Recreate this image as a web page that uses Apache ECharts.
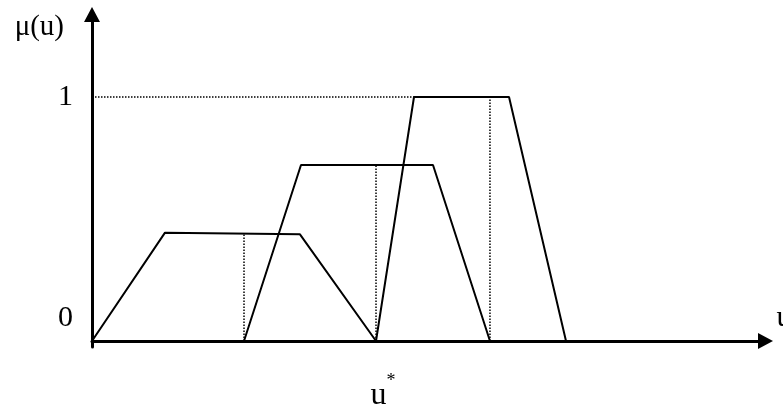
<!DOCTYPE html>
<html>
<head>
<meta charset="utf-8">
<title>μ(u)</title>
<script src="https://cdn.jsdelivr.net/npm/echarts@6/dist/echarts.min.js"></script>
<style>
  html, body { margin: 0; padding: 0; background: #fff; }
  #chart { width: 783px; height: 406px; }
</style>
</head>
<body>
<div id="chart"></div>
<script>
// Three trapezoidal membership functions, as [u, μ] knots
const lowSet  = [[0, 0], [10.84, 0.444], [30.88, 0.437], [42.17, 0]];
const midSet  = [[22.57, 0], [31.03, 0.721], [50.63, 0.721], [59.09, 0]];
const highSet = [[42.17, 0], [47.81, 1], [61.92, 1], [70.38, 0]];

// Tick labels
const yTickValues = [0, 1];
const yTickLabels = ['0', '1'];
const uStar = 42.17;

// Height of a set at u (linear between knots)
function muAt(set, u) {
  for (let i = 0; i < set.length - 1; i++) {
    const [x0, y0] = set[i], [x1, y1] = set[i + 1];
    if (u >= x0 && u <= x1) return y0 + (y1 - y0) * (u - x0) / (x1 - x0);
  }
  return 0;
}

// Dotted projection lines
const guideOne = [[0, 1], highSet[1]];
const guideA = [[midSet[0][0], 0], [midSet[0][0], muAt(lowSet, midSet[0][0])]];
const guideB = [[highSet[0][0], 0], [highSet[0][0], midSet[1][1]]];
const guideC = [[midSet[3][0], 0], [midSet[3][0], highSet[1][1]]];

const serif = 'Liberation Serif';

const solid = (data) => ({
  type: 'line', data, symbol: 'none', silent: true,
  lineStyle: { color: '#000', width: 2 }, z: 3
});
const dotted = (data) => ({
  type: 'line', data, symbol: 'none', silent: true,
  lineStyle: { color: '#000', width: 1.5, type: [1.5, 1.5] }, z: 2
});

const chart = echarts.init(document.getElementById('chart'));
chart.setOption({
  animation: false,
  backgroundColor: '#fff',
  grid: { left: 92, right: 17.5, top: 14.5, bottom: 59, outerBoundsMode: 'none' },
  xAxis: {
    type: 'value', min: 0, max: 100,
    name: 'u', nameLocation: 'end', nameGap: 11,
    nameTextStyle: { fontFamily: serif, fontSize: 30, color: '#000', align: 'left', verticalAlign: 'bottom', padding: [0, 0, 8, 0] },
    axisLine: { show: true, onZero: true, symbol: ['none', 'triangle'], symbolSize: [16, 15], lineStyle: { color: '#000', width: 3 } },
    axisTick: { show: false },
    splitLine: { show: false },
    axisLabel: {
      customValues: [uStar], margin: 25,
      formatter: () => '{u|u}{s|*}',
      rich: {
        u: { fontFamily: serif, fontSize: 32, color: '#000', padding: [0, 0, 0, 14], verticalAlign: 'bottom', lineHeight: 40 },
        s: { fontFamily: serif, fontSize: 18, color: '#000', verticalAlign: 'top', lineHeight: 40 }
      }
    }
  },
  yAxis: {
    type: 'value', min: -0.0246, max: 1.338,
    name: 'μ(u)', nameLocation: 'end', nameGap: -12.5,
    nameTextStyle: { fontFamily: serif, fontSize: 29, color: '#000', align: 'right', verticalAlign: 'middle', padding: [0, 28, 0, 0] },
    axisLine: { show: true, onZero: true, symbol: ['none', 'triangle'], symbolSize: [16, 15], lineStyle: { color: '#000', width: 3 } },
    axisTick: { show: false },
    splitLine: { show: false },
    axisLabel: {
      customValues: yTickValues, margin: 19,
      formatter: (v) => v === 0 ? '{z|' + yTickLabels[0] + '}' : '{o|' + yTickLabels[1] + '}',
      rich: {
        z: { fontFamily: serif, fontSize: 30, color: '#000', padding: [0, 0, 46, 0] },
        o: { fontFamily: serif, fontSize: 30, color: '#000' }
      }
    }
  },
  series: [
    dotted(guideOne), dotted(guideA), dotted(guideB), dotted(guideC),
    solid(lowSet), solid(midSet), solid(highSet)
  ]
});
</script>
</body>
</html>
